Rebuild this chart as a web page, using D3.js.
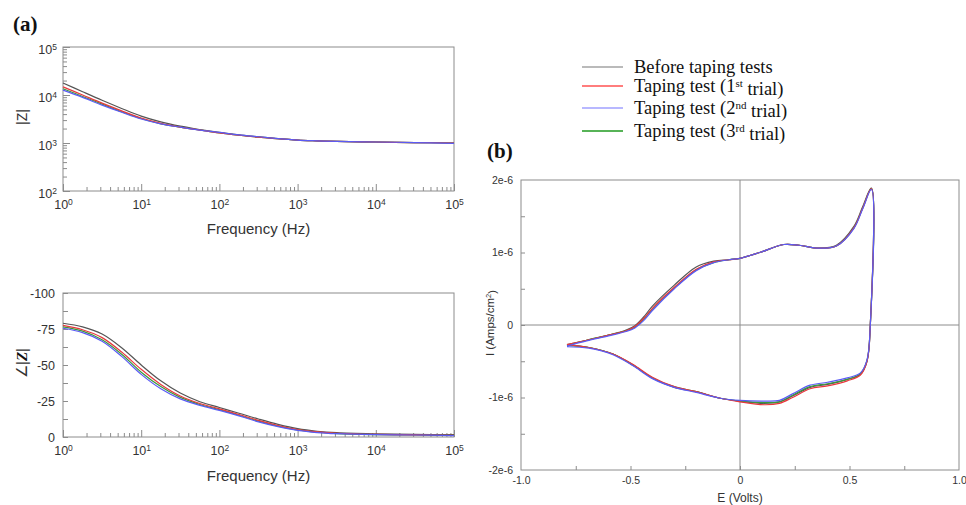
<!DOCTYPE html>
<html lang="en">
<head>
<meta charset="UTF-8">
<script src="https://d3js.org/d3.v7.min.js"></script>
<title>Taping tests - EIS and CV</title>
<style>
  body { margin: 0; background: #fff; }
  svg text { font-family: "Liberation Sans", Arial, sans-serif; fill: #333; }
  .serif { font-family: "Liberation Serif", "Times New Roman", serif; fill: #111; }
  .frame { fill: none; stroke: #8c8c8c; stroke-width: 1; }
  .curve { fill: none; stroke-width: 1.2; }
</style>
</head>
<body>
<svg id="fig" width="966" height="505"></svg>
<script>
// ---- data ----
const seriesNames = [
  ["Before taping tests", "", ""],
  ["Taping test (1", "st", " trial)"],
  ["Taping test (2", "nd", " trial)"],
  ["Taping test (3", "rd", " trial)"]
];

// frequency grid (Hz) shared by both EIS plots
const freq = [1, 1.78, 3.16, 5.62, 10, 17.8, 31.6, 56.2, 100, 178, 316, 562, 1000, 1780, 3160, 10000, 31600, 100000];

// |Z| (ohm)
const zBefore = [17800, 11700, 7760, 5250, 3630, 2750, 2240, 1910, 1660, 1480, 1350, 1230, 1150, 1110, 1080, 1050, 1020, 1000];
const zTrial1 = [14800, 10000, 6760, 4680, 3310, 2570, 2140, 1860, 1620, 1450, 1320, 1230, 1150, 1110, 1080, 1050, 1020, 1000];
const zTrial2 = [12600, 8910, 6170, 4370, 3160, 2510, 2140, 1860, 1660, 1480, 1350, 1230, 1150, 1110, 1080, 1050, 1020, 980];
const zTrial3 = [13500, 9330, 6460, 4470, 3240, 2510, 2140, 1860, 1620, 1450, 1320, 1230, 1150, 1110, 1080, 1050, 1020, 1000];

// phase (deg)
const phBefore = [-79, -76.5, -71.5, -62, -50, -39, -30.5, -24.5, -20.5, -16.5, -12.5, -8.8, -5.8, -4.0, -3.0, -2.2, -1.8, -1.6];
const phTrial1 = [-77.5, -74.5, -69, -59, -47, -36.5, -28.5, -23.3, -19.5, -15.6, -11.5, -8, -5.2, -3.5, -2.6, -1.8, -1.5, -1.2];
const phTrial2 = [-75.5, -72.5, -66.5, -56, -43.5, -33.5, -26.5, -22, -18.5, -14.7, -10.5, -7.2, -4.6, -3.1, -2.3, -1.6, -1.4, -1.0];
const phTrial3 = [-76.5, -73.5, -67.5, -57.5, -45, -35, -27.5, -22.6, -19, -15.1, -11, -7.6, -4.9, -3.3, -2.4, -1.7, -1.4, -1.1];

// cyclic voltammetry: potential (V), forward scan then reverse scan
const cvPotential = [-0.79, -0.70, -0.60, -0.52, -0.48, -0.44, -0.40, -0.30, -0.20, -0.12, -0.05, 0.00, 0.09, 0.20, 0.27, 0.36, 0.44, 0.52, 0.56, 0.60,
                     0.595, 0.58, 0.55, 0.49, 0.40, 0.32, 0.24, 0.18, 0.11, 0.00, -0.09, -0.20, -0.30, -0.40, -0.49, -0.58, -0.69, -0.79];
// current (x1e-6 A/cm2)
const cvBefore = [-0.27, -0.21, -0.14, -0.07, -0.01, 0.11, 0.26, 0.55, 0.80, 0.88, 0.90, 0.92, 1.00, 1.11, 1.10, 1.06, 1.10, 1.36, 1.63, 1.89,
                  0.00, -0.50, -0.68, -0.75, -0.82, -0.86, -0.98, -1.06, -1.08, -1.05, -1.01, -0.92, -0.86, -0.73, -0.55, -0.40, -0.31, -0.27];
const cvTrial1 = [-0.27, -0.21, -0.14, -0.08, -0.02, 0.09, 0.23, 0.52, 0.77, 0.87, 0.90, 0.92, 1.00, 1.11, 1.10, 1.06, 1.09, 1.34, 1.61, 1.88,
                  0.00, -0.50, -0.69, -0.77, -0.84, -0.88, -1.00, -1.08, -1.10, -1.06, -1.01, -0.92, -0.85, -0.72, -0.54, -0.40, -0.31, -0.27];
const cvTrial2 = [-0.29, -0.22, -0.15, -0.09, -0.04, 0.06, 0.20, 0.50, 0.75, 0.86, 0.90, 0.92, 1.00, 1.11, 1.10, 1.06, 1.09, 1.33, 1.60, 1.87,
                  0.00, -0.48, -0.66, -0.73, -0.79, -0.83, -0.95, -1.04, -1.05, -1.04, -1.01, -0.93, -0.86, -0.74, -0.56, -0.41, -0.32, -0.30];
const cvTrial3 = [-0.28, -0.21, -0.14, -0.08, -0.03, 0.08, 0.22, 0.51, 0.76, 0.86, 0.90, 0.92, 1.00, 1.11, 1.10, 1.06, 1.09, 1.34, 1.61, 1.88,
                  0.00, -0.49, -0.67, -0.75, -0.81, -0.85, -0.97, -1.06, -1.07, -1.05, -1.01, -0.92, -0.85, -0.73, -0.55, -0.40, -0.31, -0.28];

const freqDecades = [1, 10, 100, 1000, 10000, 100000];
const zDecades = [100, 1000, 10000, 100000];
const phaseTicks = [0, -25, -50, -75, -100];
const cvXTicks = [-1.0, -0.5, 0, 0.5, 1.0];
const cvYTicks = [-2, -1, 0, 1, 2];

// ---- styles ----
const lineColors = ["#555555", "#3a9a3a", "#e8383d", "#5b5bf5"];   // draw order: before, 3rd, 1st, 2nd
const legendColors = ["#a3a3a3", "#ff5252", "#a0a0ff", "#1f9a1f"];
const grey = "#8c8c8c";

const svg = d3.select("#fig");

// panel boxes
const a1 = {x0: 63, x1: 454, y0: 47, y1: 191};
const a2 = {x0: 63, x1: 454, y0: 293, y1: 437};
const b = {x0: 521, x1: 959, y0: 180, y1: 470};

const fx = d3.scaleLog().domain([1, 1e5]).range([a1.x0, a1.x1]);
const zy = d3.scaleLog().domain([1e2, 1e5]).range([a1.y1, a1.y0]);
const py = d3.scaleLinear().domain([0, -100]).range([a2.y1, a2.y0]);
const ex = d3.scaleLinear().domain([-1, 1]).range([b.x0, b.x1]);
const iy = d3.scaleLinear().domain([-2, 2]).range([b.y1, b.y0]);

function frame(p) {
  svg.append("rect").attr("class", "frame")
    .attr("x", p.x0).attr("y", p.y0)
    .attr("width", p.x1 - p.x0).attr("height", p.y1 - p.y0);
}

// inward ticks, no labels
function tickMarks(axisFn, scale, values, len, transform) {
  const g = svg.append("g").attr("transform", transform)
    .call(axisFn(scale).tickValues(values).tickSize(-len).tickFormat(""));
  g.select(".domain").remove();
  g.selectAll("line").attr("stroke", grey);
}

function cleanAxis(g, size) {
  g.select(".domain").remove();
  g.attr("font-family", null).attr("font-size", null);
  g.selectAll(".tick line").remove();
  g.selectAll(".tick text").style("font-size", size + "px").attr("fill", "#333");
}

function powerLabel(sel) {
  sel.each(function(d) {
    const t = d3.select(this);
    t.text("10");
    t.append("tspan").attr("dy", "-0.5em").style("font-size", "8.5px").text(Math.round(Math.log10(d)));
  });
}

// ---------- (a) top: |Z| ----------
frame(a1);
const minorF = fx.ticks().filter(v => !freqDecades.includes(v));
tickMarks(d3.axisBottom, fx, minorF, 4, `translate(0,${a1.y1})`);
tickMarks(d3.axisBottom, fx, freqDecades, 7, `translate(0,${a1.y1})`);
const minorZ = zy.ticks().filter(v => !zDecades.includes(v));
tickMarks(d3.axisLeft, zy, minorZ, 4, `translate(${a1.x0},0)`);
tickMarks(d3.axisLeft, zy, zDecades, 7, `translate(${a1.x0},0)`);

let g = svg.append("g").attr("transform", `translate(0,${a1.y1})`)
  .call(d3.axisBottom(fx).tickValues(freqDecades).tickSize(0).tickPadding(9));
cleanAxis(g, 12.5);
powerLabel(g.selectAll(".tick text"));

g = svg.append("g").attr("transform", `translate(${a1.x0},0)`)
  .call(d3.axisLeft(zy).tickValues(zDecades).tickSize(0).tickPadding(6));
cleanAxis(g, 12.5);
g.selectAll(".tick text").attr("dy", "0.55em");
powerLabel(g.selectAll(".tick text"));

svg.append("text").attr("x", (a1.x0 + a1.x1) / 2).attr("y", a1.y1 + 43)
  .attr("text-anchor", "middle").style("font-size", "15px").text("Frequency (Hz)");
svg.append("text").attr("transform", `translate(27,${(a1.y0 + a1.y1) / 2 - 2}) rotate(-90)`)
  .attr("text-anchor", "middle").style("font-size", "14px").text("|Z|");

const zSeries = [zBefore, zTrial3, zTrial1, zTrial2];
const zLine = d3.line().x((d, i) => fx(freq[i])).y(d => zy(d)).curve(d3.curveCatmullRom.alpha(0.5));
svg.append("g").selectAll("path").data(zSeries).join("path")
  .attr("class", "curve").attr("stroke", (d, i) => lineColors[i]).attr("d", zLine);

// ---------- (a) bottom: phase ----------
frame(a2);
tickMarks(d3.axisBottom, fx, minorF, 4, `translate(0,${a2.y1})`);
tickMarks(d3.axisBottom, fx, freqDecades, 7, `translate(0,${a2.y1})`);
tickMarks(d3.axisLeft, py, d3.range(0, -100.1, -12.5), 5, `translate(${a2.x0},0)`);

g = svg.append("g").attr("transform", `translate(0,${a2.y1})`)
  .call(d3.axisBottom(fx).tickValues(freqDecades).tickSize(0).tickPadding(9));
cleanAxis(g, 12.5);
powerLabel(g.selectAll(".tick text"));

g = svg.append("g").attr("transform", `translate(${a2.x0},0)`)
  .call(d3.axisLeft(py).tickValues(phaseTicks).tickSize(0).tickPadding(8).tickFormat(d => String(d)));
cleanAxis(g, 12.5);
g.selectAll(".tick text").attr("dy", "0.36em");

svg.append("text").attr("x", (a2.x0 + a2.x1) / 2).attr("y", a2.y1 + 44)
  .attr("text-anchor", "middle").style("font-size", "15px").text("Frequency (Hz)");
const angLabel = svg.append("text").attr("transform", `translate(27,${(a2.y0 + a2.y1) / 2 - 2}) rotate(-90)`)
  .attr("text-anchor", "middle").style("font-size", "15px");
angLabel.append("tspan").text("\u2220|");
angLabel.append("tspan").attr("class", "serif").style("font-weight", "bold").style("font-style", "italic").text("Z");
angLabel.append("tspan").text("|");

const phSeries = [phBefore, phTrial3, phTrial1, phTrial2];
const phLine = d3.line().x((d, i) => fx(freq[i])).y(d => py(d)).curve(d3.curveCatmullRom.alpha(0.5));
svg.append("g").selectAll("path").data(phSeries).join("path")
  .attr("class", "curve").attr("stroke", (d, i) => lineColors[i]).attr("d", phLine);

svg.append("text").attr("class", "serif").attr("x", 13).attr("y", 31)
  .style("font-size", "21px").style("font-weight", "bold").text("(a)");

// ---------- (b) cyclic voltammogram ----------
frame(b);
svg.append("line").attr("x1", ex(0)).attr("x2", ex(0)).attr("y1", b.y0).attr("y2", b.y1).attr("stroke", grey);
svg.append("line").attr("x1", b.x0).attr("x2", b.x1).attr("y1", iy(0)).attr("y2", iy(0)).attr("stroke", grey);
tickMarks(d3.axisBottom, ex, d3.range(-0.75, 1, 0.25), 4, `translate(0,${b.y1})`);
tickMarks(d3.axisLeft, iy, d3.range(-1.5, 2, 0.5), 4, `translate(${b.x0},0)`);

g = svg.append("g").attr("transform", `translate(0,${b.y1})`)
  .call(d3.axisBottom(ex).tickValues(cvXTicks).tickSize(0).tickPadding(7)
    .tickFormat(d => d === 0 ? "0" : d.toFixed(1)));
cleanAxis(g, 10.5);

g = svg.append("g").attr("transform", `translate(${b.x0},0)`)
  .call(d3.axisLeft(iy).tickValues(cvYTicks).tickSize(0).tickPadding(8).tickFormat(d => d === 0 ? "0" : d + "e-6"));
cleanAxis(g, 10.5);

svg.append("text").attr("x", ex(0)).attr("y", b.y1 + 32)
  .attr("text-anchor", "middle").style("font-size", "12px").text("E (Volts)");
const iLabel = svg.append("text").attr("transform", `translate(494,${iy(0) - 2}) rotate(-90)`)
  .attr("text-anchor", "middle").style("font-size", "11.5px");
iLabel.append("tspan").text("I (Amps/cm");
iLabel.append("tspan").attr("dy", "-0.45em").style("font-size", "7.5px").text("2");
iLabel.append("tspan").attr("dy", "0.45em").text(")");

const cvSeries = [cvBefore, cvTrial3, cvTrial1, cvTrial2];
const cvLine = d3.line().x((d, i) => ex(cvPotential[i])).y(d => iy(d)).curve(d3.curveCatmullRom.alpha(0.5));
svg.append("g").selectAll("path").data(cvSeries).join("path")
  .attr("class", "curve").attr("stroke", (d, i) => lineColors[i]).attr("d", cvLine);

svg.append("text").attr("class", "serif").attr("x", 487).attr("y", 158)
  .style("font-size", "21px").style("font-weight", "bold").text("(b)");

// ---------- legend ----------
const legendY = [67, 86, 108, 131];
const legend = svg.append("g").selectAll("g").data(seriesNames).join("g")
  .attr("transform", (d, i) => `translate(582,${legendY[i]})`);
legend.append("line").attr("x1", 0).attr("x2", 41).attr("stroke-width", 1.5)
  .attr("stroke", (d, i) => legendColors[i]);
const lt = legend.append("text").attr("class", "serif").attr("x", 52).attr("y", 6)
  .style("font-size", "18.5px");
lt.append("tspan").text(d => d[0]);
lt.append("tspan").attr("dy", "-0.45em").style("font-size", "11px").text(d => d[1]);
lt.append("tspan").attr("dy", d => d[1] ? "0.45em" : 0).text(d => d[2]);
</script>
</body>
</html>
